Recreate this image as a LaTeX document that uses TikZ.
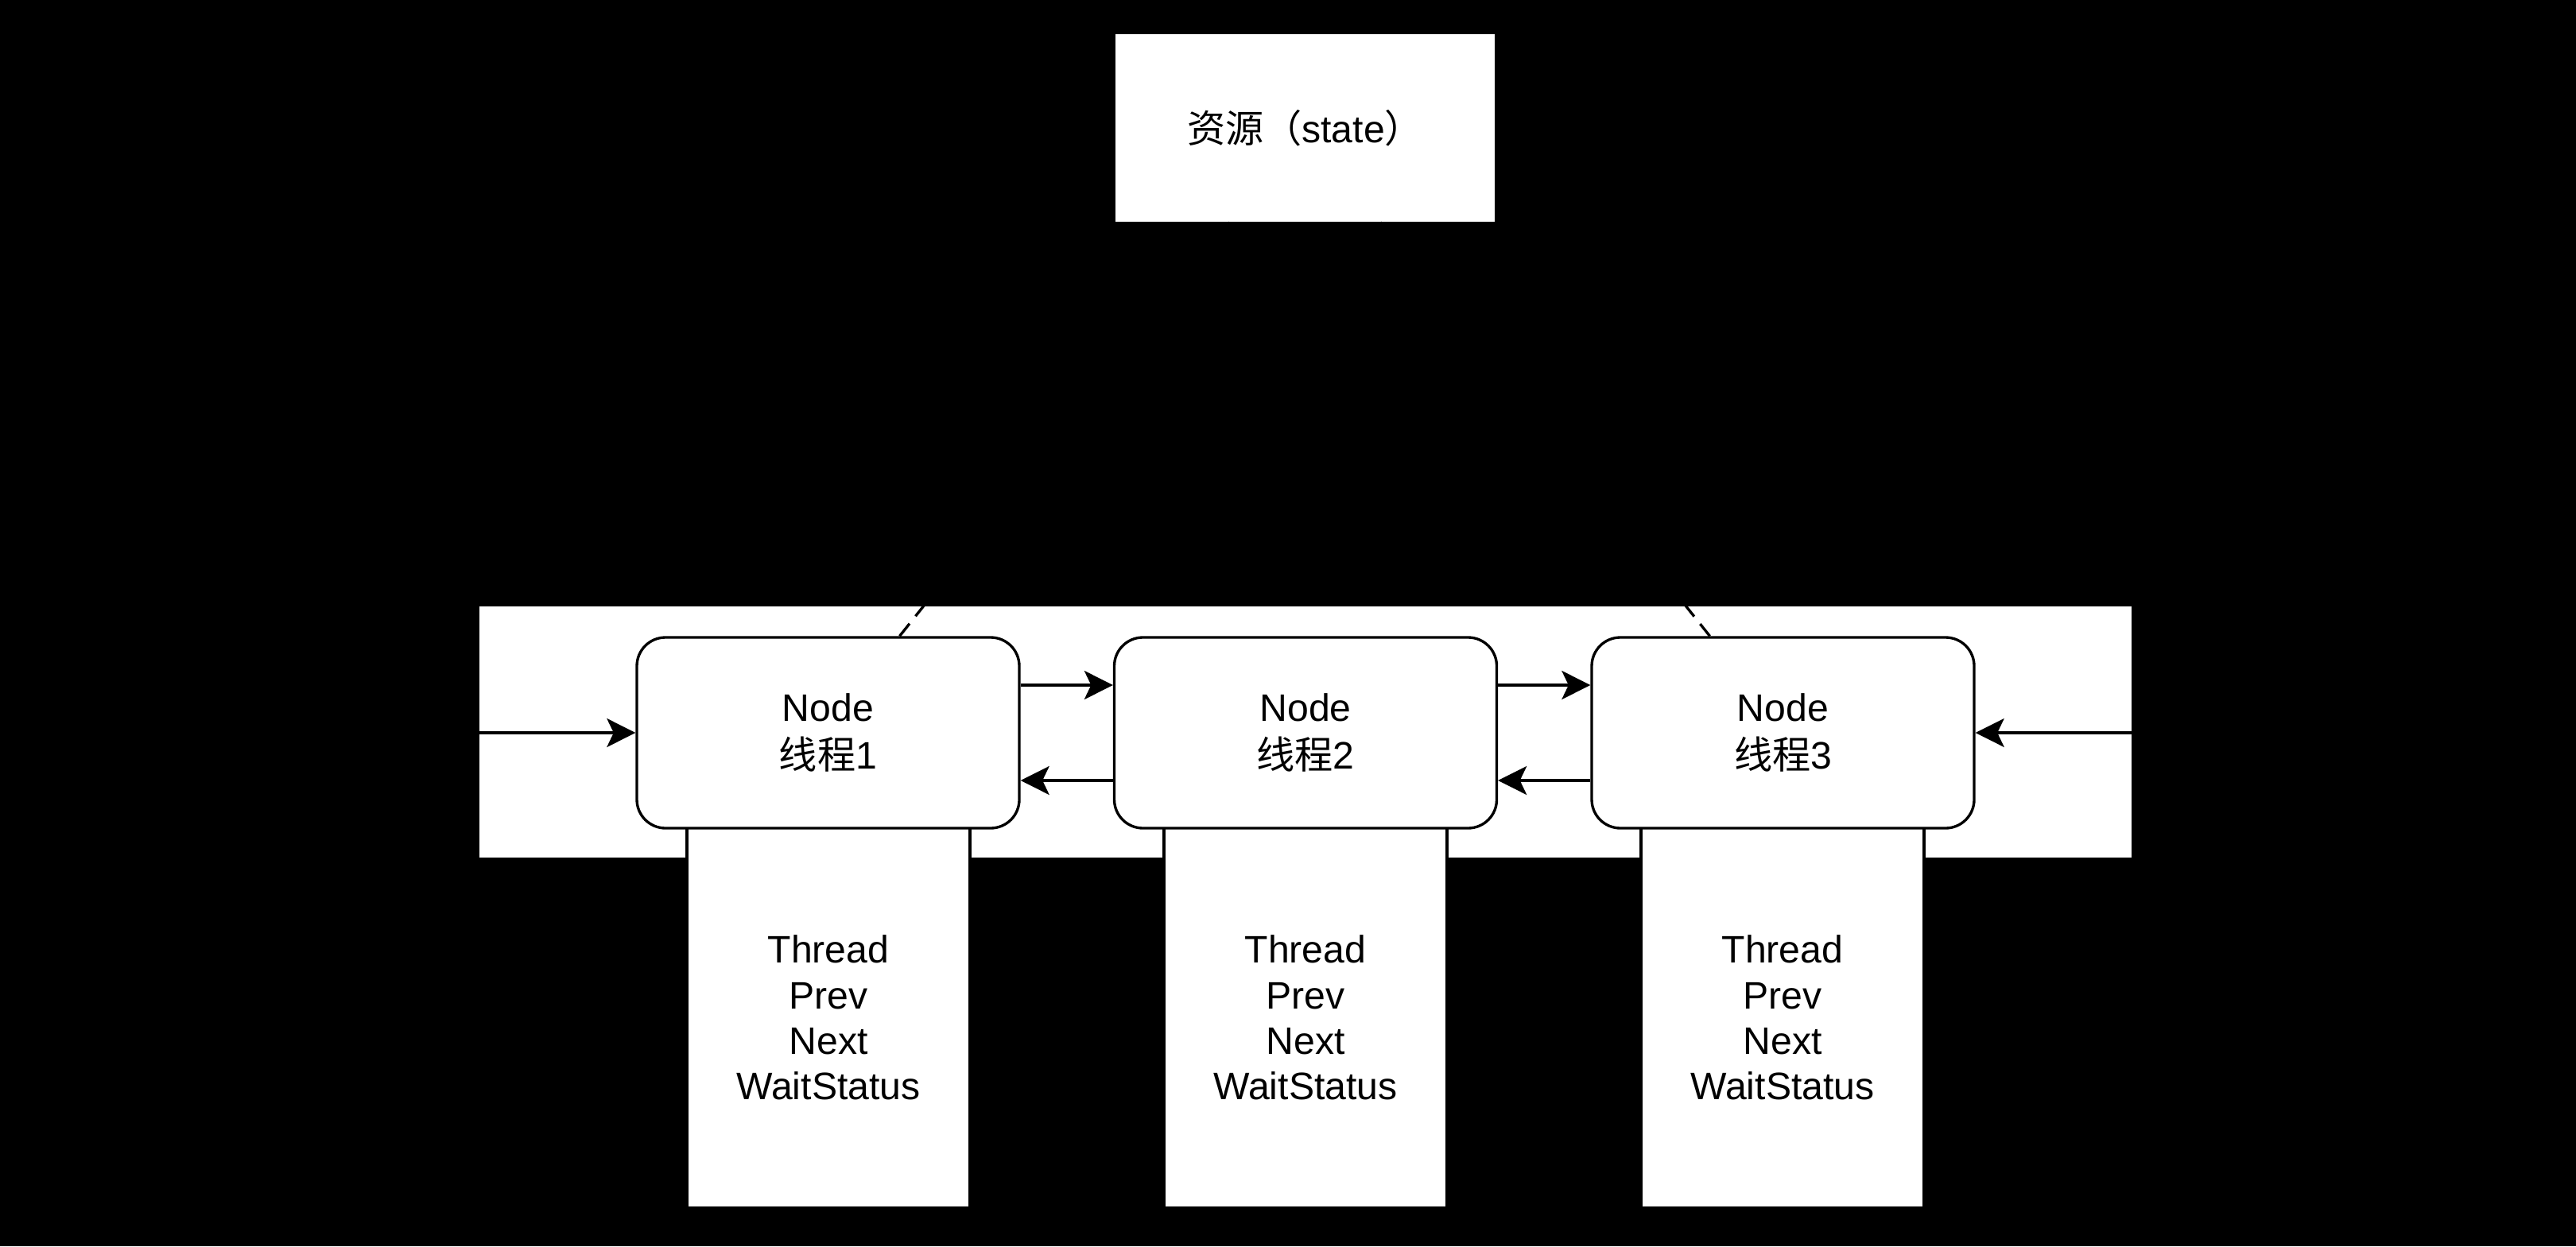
\documentclass[tikz,border=0pt]{standalone}
\usepackage{fontspec}
\setmainfont{Liberation Sans}
\newfontfamily\cjk{Noto Sans CJK SC}
\usetikzlibrary{arrows.meta}

\tikzset{
  nodebox/.style={draw=black, line width=0.95pt, fill=white, rounded corners=0.36cm,
    minimum width=4.81cm, minimum height=2.40cm, inner sep=0pt, align=center,
    font=\fontsize{13.7pt}{17.2pt}\selectfont},
  fieldbox/.style={draw=black, line width=0.95pt, fill=white,
    minimum width=3.56cm, minimum height=4.79cm, inner sep=0pt, align=center,
    font=\fontsize{13.7pt}{16.3pt}\selectfont},
  link/.style={draw=black, line width=0.95pt, -{Stealth[length=3.6mm,width=3.6mm,inset=0.85mm]}},
  holdline/.style={draw=black, line width=0.95pt, dash pattern=on 0.22cm off 0.12cm},
}

\begin{document}
\begin{tikzpicture}
\fill[black] (0,0) rectangle (32.4,-15.68);
\useasboundingbox (0,0) rectangle (32.4,-15.68);

\node[fill=white, minimum width=4.77cm, minimum height=2.36cm, inner sep=0pt,
  font=\fontsize{13.7pt}{16pt}\selectfont] (state) at (16.415,-1.61) {{\cjk 资源（}state{\cjk ）}};

% queue
\node[fill=white, minimum width=20.78cm, minimum height=3.16cm, inner sep=0pt] (queue) at (16.42,-9.21) {};

\node[fieldbox] (f1) at (10.42,-12.805) {Thread\\Prev\\Next\\WaitStatus};
\node[fieldbox] (f2) at (16.42,-12.805) {Thread\\Prev\\Next\\WaitStatus};
\node[fieldbox] (f3) at (22.42,-12.805) {Thread\\Prev\\Next\\WaitStatus};

\node[nodebox] (n1) at (10.415,-9.22) {Node\\{\cjk 线程}1};
\node[nodebox] (n2) at (16.42,-9.22) {Node\\{\cjk 线程}2};
\node[nodebox] (n3) at (22.425,-9.22) {Node\\{\cjk 线程}3};

\draw[link] ([yshift=0.6cm]n1.east) -- ([yshift=0.6cm]n2.west);
\draw[link] ([yshift=-0.6cm]n2.west) -- ([yshift=-0.6cm]n1.east);
\draw[link] ([yshift=0.6cm]n2.east) -- ([yshift=0.6cm]n3.west);
\draw[link] ([yshift=-0.6cm]n3.west) -- ([yshift=-0.6cm]n2.east);

\coordinate (headin) at (queue.west |- n1.west);
\coordinate (tailin) at (queue.east |- n3.east);
\draw[link] (headin) -- (n1);
\draw[link] (tailin) -- (n3);

% state
\draw[holdline] (state) -- ([xshift=0.9cm]n1.north);
\draw[holdline] (state) -- ([xshift=-0.92cm]n3.north);
\end{tikzpicture}
\end{document}
